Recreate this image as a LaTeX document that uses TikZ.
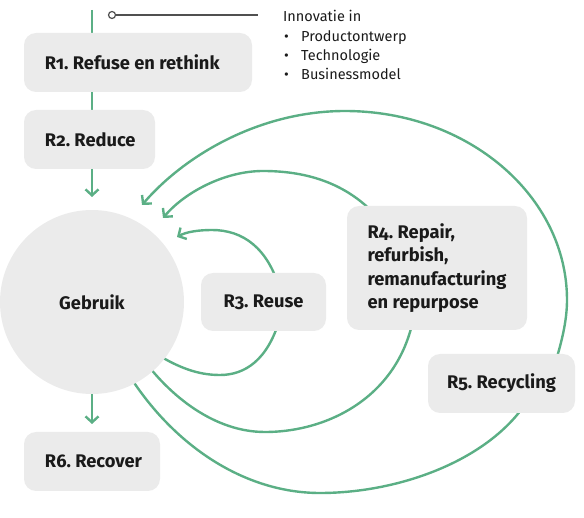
\documentclass[tikz,border=0pt]{standalone}
\usepackage{fontspec}
\setmainfont{Fira Sans}[Numbers=OldStyle]
\usetikzlibrary{arrows.meta}
\pgfdeclarelayer{background}
\pgfsetlayers{background,main}
\definecolor{rgreen}{HTML}{5BAF85}
\definecolor{boxgray}{HTML}{EBEBEB}
\definecolor{ink}{HTML}{1A1A1A}
\definecolor{lead}{HTML}{505050}
\frenchspacing
\begin{document}
\begin{tikzpicture}[x=1pt,y=-1pt,
  flow/.style={draw=rgreen, line width=2.4pt},
  tipped/.style={flow, -{Straight Barb[length=6pt,width=13pt]}},
  rbox/.style={fill=boxgray, rounded corners=12pt, inner xsep=21pt, inner ysep=0pt,
    font=\fontsize{18.3}{23.3}\selectfont\bfseries, text=ink, align=left},
  listtext/.style={anchor=base west, inner sep=0pt, font=\fontsize{14.5}{19}\selectfont, text=ink}
]
\useasboundingbox (0,0) rectangle (584,518);

% boxes
\node[rbox, minimum height=59pt] (r1) at (138,62.5) {\makebox[186pt][l]{R1. Refuse en rethink}};
\node[rbox, minimum height=59pt] (r2) at (89.5,139.5) {\makebox[89pt][l]{R2. Reduce}};
\node[rbox, inner xsep=10pt, minimum width=125pt, minimum height=58pt] (r3) at (263.5,302) {R3. Reuse};
\node[rbox, inner xsep=10pt, minimum width=180pt, minimum height=124pt] (r4) at (437,268)
  {R4. Repair,\\refurbish,\\remanufacturing\\en repurpose};
\node[rbox, inner xsep=10pt, minimum width=147pt, minimum height=59pt] (r5) at (501.5,383.5) {R5. Recycling};
\node[rbox, minimum height=59pt] (r6) at (92,461.5) {\makebox[94pt][l]{R6. Recover}};
\node[circle, fill=boxgray, minimum size=184pt, inner sep=0pt,
  font=\fontsize{18.2}{20}\selectfont\bfseries, text=ink] (geb) at (92,302) {Gebruik};

% innovation note
\node[circle, draw=lead, line width=1.2pt, fill=white, inner sep=0pt, minimum size=7pt] (dot) at (112,15) {};
\coordinate (leadend) at (258,15);
\draw[lead, line width=1.2pt] (dot) -- (leadend);
\node[listtext] (innov) at (283,22) {Innovatie in};
\node[listtext] (b1) at (283,42) {\makebox[18pt][l]{\hspace{1pt}\textbullet}Productontwerp};
\node[listtext] (b2) at (283,61) {\makebox[18pt][l]{\hspace{1pt}\textbullet}Technologie};
\node[listtext] (b3) at (283,80) {\makebox[18pt][l]{\hspace{1pt}\textbullet}Businessmodel};

% connector end points
\coordinate (top) at (92,10);
\coordinate (t2) at (92,197);
\coordinate (t6) at (92,424);
\coordinate (r3a) at (280,290);
\coordinate (r3t) at (177,237);
\coordinate (r3b) at (280,318);
\coordinate (r3e) at (150,350);
\coordinate (r4a) at (380,220);
\coordinate (r4t) at (163,218);
\coordinate (r4b) at (414,315);
\coordinate (r4e) at (140,355);
\coordinate (r5a) at (553,370);
\coordinate (r5t) at (142,205);
\coordinate (r5b) at (528,400);
\coordinate (r5e) at (120,360);

\begin{pgfonlayer}{background}
\draw[flow] (top) -- (r2.north -| top);
\draw[tipped] (r2.south -| top) -- (t2);
\draw[tipped] (geb.south) -- (t6);
% R3 loop
\draw[tipped] (r3a) .. controls (268,248) and (243,230) .. (212,230)
  .. controls (198,230) and (186,232) .. (r3t);
\draw[flow] (r3b) .. controls (268,360) and (245,375) .. (220,375)
  .. controls (198,375) and (178,368) .. (r3e);
% R4 loop
\draw[tipped] (r4a) .. controls (350,185) and (310,171) .. (263,171)
  .. controls (225,171) and (185,192) .. (r4t);
\draw[flow] (r4b) .. controls (400,395) and (330,432) .. (265,432)
  .. controls (215,432) and (170,397) .. (r4e);
% R5 loop
\draw[tipped] (r5a) .. controls (561,345) and (567,322) .. (567,300)
  .. controls (567,196) and (468,111) .. (345,111)
  .. controls (260,111) and (185,155) .. (r5t);
\draw[flow] (r5b) .. controls (490,460) and (400,493) .. (320,493)
  .. controls (240,493) and (165,440) .. (r5e);
\end{pgfonlayer}
\end{tikzpicture}
\end{document}
